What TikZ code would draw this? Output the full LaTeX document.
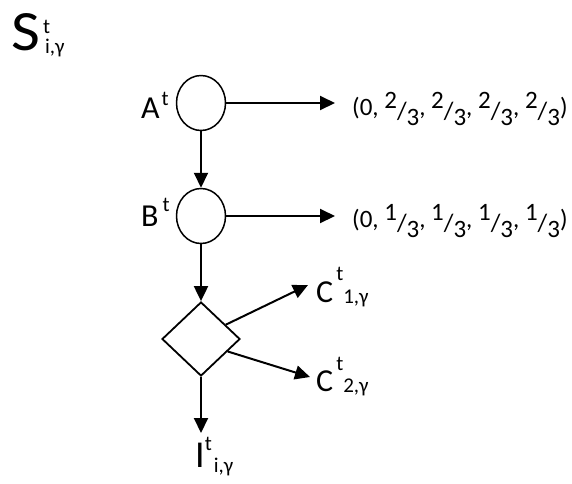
\documentclass[tikz,border=0pt]{standalone}
\usepackage{fontspec}
\setmainfont{Carlito}
\usetikzlibrary{arrows.meta,shapes.geometric}
\newcommand\lab[7]{{\fontsize{#1}{#1}\selectfont #2}\rlap{\fontsize{21}{21}\selectfont\raisebox{#3}{#4}}\hspace*{#7}{\fontsize{21}{21}\selectfont\raisebox{#5}{#6}}}
\newcommand\fr[2]{\raisebox{7pt}{#1}\raisebox{-4pt}{/}\raisebox{-10pt}{#2}}
\begin{document}
\begin{tikzpicture}[x=1pt,y=-1pt,
  oval/.style={ellipse,draw,line width=1.5pt,minimum width=49pt,minimum height=55pt,inner sep=0pt},
  dia/.style={diamond,draw,line width=1.8pt,minimum width=78pt,minimum height=74pt,inner sep=0pt},
  arr/.style={line width=2pt,-{Triangle[length=15pt,width=14pt]}},
  txt/.style={inner sep=0pt,anchor=base west},
  tup/.style={inner sep=0pt,anchor=base west,font=\fontsize{25}{25}\selectfont}]
\useasboundingbox (0,0) rectangle (572,483);
\node[txt] (S) at (11,50) {\lab{57pt}{\scalebox{1.1}[1]{S}\kern3pt}{17pt}{t}{-3pt}{i,γ}{2pt}};
\node[oval] (A) at (201,103) {};
\node[oval] (B) at (201,216) {};
\node[dia] (D) at (201,339) {};
\node[txt] (Al) at (141,118) {\lab{32pt}{A\kern2pt}{13pt}{t}{0pt}{}{0pt}};
\node[txt] (Bl) at (141,226) {\lab{32pt}{B\kern4pt}{15pt}{t}{0pt}{}{0pt}};
\node[txt] (C1) at (316,302) {\lab{32pt}{C\kern3pt}{22pt}{t}{-1pt}{1,γ}{7pt}};
\node[txt] (C2) at (316,391) {\lab{32pt}{C\kern3pt}{21pt}{t}{-1pt}{2,γ}{7pt}};
\node[txt] (I) at (195,467) {\lab{38pt}{I}{17pt}{t}{-5pt}{i,γ}{9pt}};
\node[tup] (T1) at (352,115) {(0, \fr{2}{3}, \fr{2}{3}, \fr{2}{3}, \fr{2}{3})};
\node[tup] (T2) at (352,227) {(0, \fr{1}{3}, \fr{1}{3}, \fr{1}{3}, \fr{1}{3})};
\coordinate (a1) at (335,103);
\coordinate (b1) at (335,216);
\coordinate (c1) at (308,285);
\coordinate (c2) at (310,377);
\coordinate (i1) at (201,433);
\draw[arr] (A.south) -- (B.north);
\draw[arr] (B.south) -- (D.north);
\draw[arr] (A.east) -- (a1);
\draw[arr] (B.east) -- (b1);
\draw[arr] (D.30) -- (c1);
\draw[arr] (D.-25) -- (c2);
\draw[arr] (D.south) -- (i1);
\end{tikzpicture}
\end{document}
